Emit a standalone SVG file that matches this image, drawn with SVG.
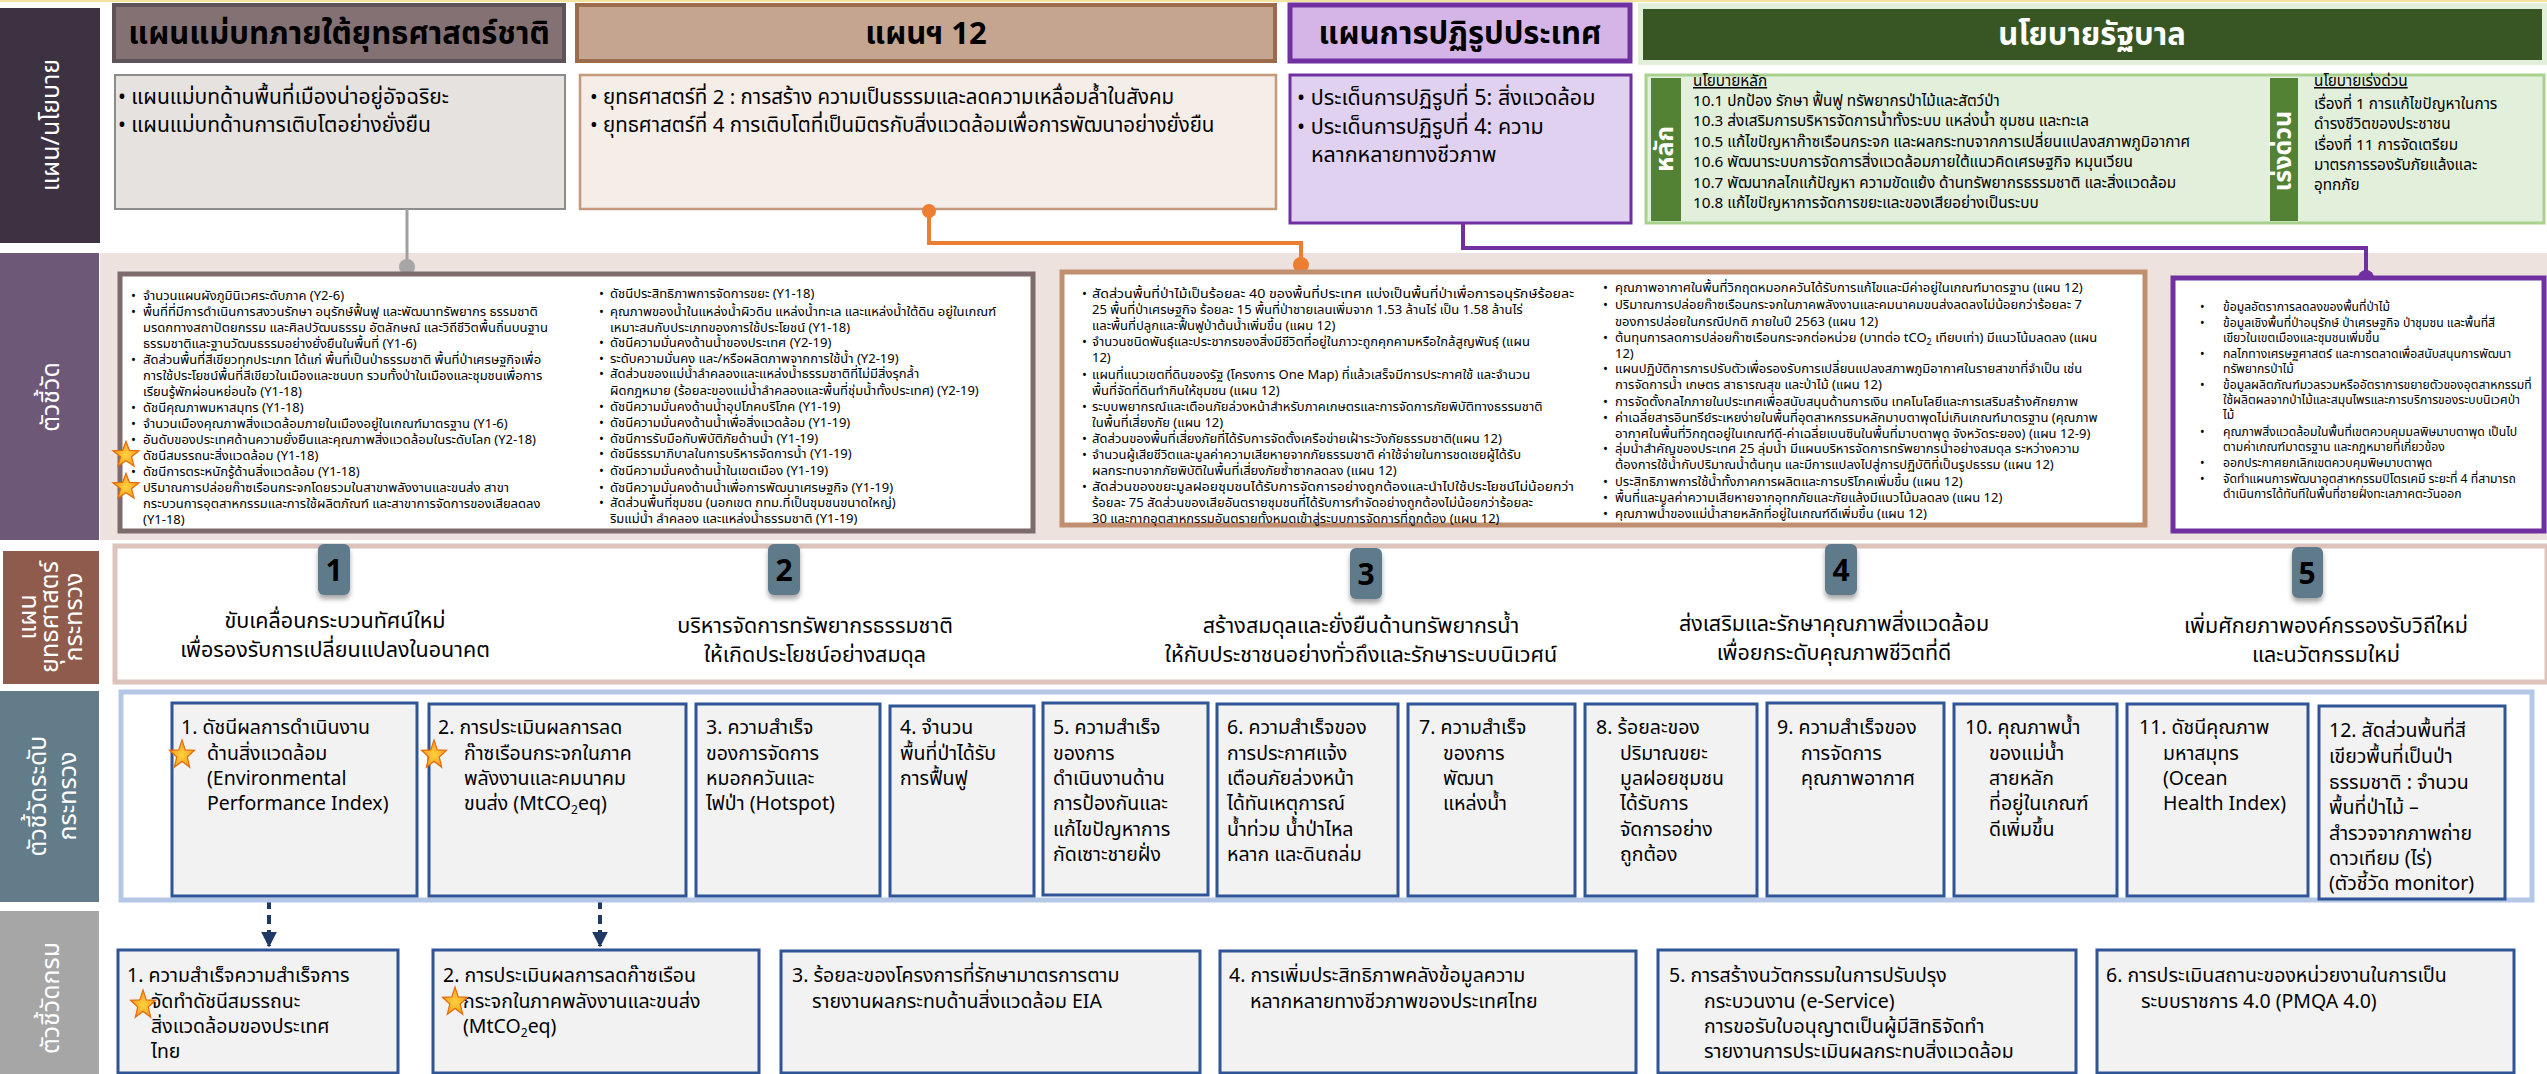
<svg xmlns="http://www.w3.org/2000/svg" width="2547" height="1074" viewBox="0 0 2547 1074">
<defs>
<style>
text{font-family:"Noto Sans Thai","Tahoma","Liberation Sans","DejaVu Sans",sans-serif;fill:#000}
.hdr{font-size:31px;font-weight:bold;text-anchor:middle}
.lbl{font-size:25px;fill:#fff;text-anchor:middle}
.ca{font-size:21px}
.cb{font-size:20.5px}
.c3{font-size:21.5px}
.pol{font-size:15.3px}
.ind{font-size:13px}
.ind3{font-size:12.2px}
.st{font-size:21.5px;text-anchor:middle}
.num{font-size:30px;font-weight:bold;text-anchor:middle}
.kpi{font-size:19.5px}
.bot{font-size:19.5px}
.kbox{fill:#f2f2f2;stroke:#2f5597;stroke-width:3}
.badge{fill:#5f7a8b;filter:url(#sh)}
</style>
<filter id="sh" x="-30%" y="-30%" width="160%" height="170%"><feDropShadow dx="0" dy="4" stdDeviation="2.5" flood-color="#000" flood-opacity="0.35"/></filter>
<radialGradient id="sg" cx="0.5" cy="0.55" r="0.6"><stop offset="0" stop-color="#ffd23c"/><stop offset="1" stop-color="#f7941d"/></radialGradient>
<path id="star" d="M0,-13 L3.23,-4.45 L12.36,-4.02 L5.23,1.7 L7.64,10.52 L0,5.5 L-7.64,10.52 L-5.23,1.7 L-12.36,-4.02 L-3.23,-4.45 Z" fill="url(#sg)" stroke="#e46c0a" stroke-width="1.2"/>
<marker id="ah" viewBox="0 0 10 10" refX="9" refY="5" markerWidth="4" markerHeight="4" orient="auto"><path d="M0,0 L10,5 L0,10 Z" fill="#1f3864"/></marker>
</defs>
<rect width="2547" height="1074" fill="#fff"/>
<rect x="0" y="0" width="2547" height="2" fill="#f3e3a0"/>

<!-- left labels -->
<g id="label-plan">
<rect x="0" y="8" width="100" height="235" fill="#3d3242"/>
<text class="lbl" transform="translate(50,125) rotate(-90)" dy="9">แผน/นโยบาย</text>
</g>
<g id="label-indicator">
<rect x="0" y="253" width="99" height="287" fill="#6d5877"/>
<text class="lbl" transform="translate(50,397) rotate(-90)" dy="9">ตัวชี้วัด</text>
</g>
<g id="label-strategy">
<rect x="3" y="551" width="96" height="133" fill="#8e5b4d"/>
<text class="lbl" font-size="20" transform="translate(52,617) rotate(-90)"><tspan x="0" dy="-16">แผน</tspan><tspan x="0" dy="22">ยุทธศาสตร์</tspan><tspan x="0" dy="24">กระทรวง</tspan></text>
</g>
<g id="label-kpi">
<rect x="0" y="691" width="99" height="211" fill="#637c8a"/>
<text class="lbl" transform="translate(50,796) rotate(-90)"><tspan x="0" dy="-4">ตัวชี้วัดระดับ</tspan><tspan x="0" dy="30">กระทรวง</tspan></text>
</g>
<g id="label-dept">
<rect x="0" y="911" width="99" height="163" fill="#a6a6a6"/>
<text class="lbl" font-size="24" transform="translate(50,998) rotate(-90)" dy="9">ตัวชี้วัดกรม</text>
</g>

<!-- band behind indicators -->
<rect x="100" y="253" width="2447" height="287" fill="#ede2de"/>

<!-- headers -->
<g id="hdr-masterplan">
<rect x="114" y="5" width="450" height="56" fill="#847174" stroke="#5e5358" stroke-width="4"/>
<text class="hdr" x="339" y="44">แผนแม่บทภายใต้ยุทธศาสตร์ชาติ</text>
</g>
<g id="hdr-plan12">
<rect x="577" y="5" width="698" height="56" fill="#c5a590" stroke="#9c6b4c" stroke-width="4"/>
<text class="hdr" x="926" y="44">แผนฯ 12</text>
</g>
<g id="hdr-reform">
<rect x="1290" y="5" width="340" height="56" fill="#d5b5e8" stroke="#7030a0" stroke-width="5"/>
<text class="hdr" x="1460" y="44">แผนการปฏิรูปประเทศ</text>
</g>
<g id="hdr-gov">
<rect x="1638" y="3" width="909" height="62" fill="#e2efda"/>
<rect x="1643" y="9" width="899" height="51" fill="#375623"/>
<text class="hdr" x="2092" y="45" style="fill:#fff">นโยบายรัฐบาล</text>
</g>

<!-- row 1 content -->
<g id="plan-masterplan">
<rect x="115" y="75" width="450" height="134" fill="#e6e2e0" stroke="#8c8c8c" stroke-width="2"/>
<text class="ca" x="118" y="104">• แผนแม่บทด้านพื้นที่เมืองน่าอยู่อัจฉริยะ</text>
<text class="ca" x="118" y="132">• แผนแม่บทด้านการเติบโตอย่างยั่งยืน</text>
</g>
<g id="plan-12">
<rect x="580" y="75" width="696" height="134" fill="#f5ede7" stroke="#c59a7c" stroke-width="2.5"/>
<text class="cb" x="590" y="104">•  ยุทธศาสตร์ที่ 2 : การสร้าง ความเป็นธรรมและลดความเหลื่อมล้ำในสังคม</text>
<text class="cb" x="590" y="132">•  ยุทธศาสตร์ที่ 4 การเติบโตที่เป็นมิตรกับสิ่งแวดล้อมเพื่อการพัฒนาอย่างยั่งยืน</text>
</g>
<g id="plan-reform">
<rect x="1290" y="75" width="341" height="148" fill="#e1d1f0" stroke="#7030a0" stroke-width="3"/>
<text class="c3" x="1297" y="105">• ประเด็นการปฏิรูปที่ 5: สิ่งแวดล้อม</text>
<text class="c3" x="1297" y="134">• ประเด็นการปฏิรูปที่ 4: ความ</text>
<text class="c3" x="1311" y="162">หลากหลายทางชีวภาพ</text>
</g>
<g id="plan-gov">
<rect x="1646" y="75" width="898" height="148" fill="#e2efda" stroke="#a9d18e" stroke-width="3"/>
<rect x="1651" y="78" width="30" height="143" fill="#548235"/>
<text class="lbl" font-size="19" font-weight="bold" transform="translate(1666,149) rotate(-90)" dy="7">หลัก</text>
<text class="pol" x="1693" y="86" text-decoration="underline">นโยบายหลัก</text>
<text class="pol" x="1693" y="106">10.1 ปกป้อง รักษา ฟื้นฟู ทรัพยากรป่าไม้และสัตว์ป่า</text>
<text class="pol" x="1693" y="126">10.3 ส่งเสริมการบริหารจัดการน้ำทั้งระบบ แหล่งน้ำ ชุมชน และทะเล</text>
<text class="pol" x="1693" y="147">10.5 แก้ไขปัญหาก๊าซเรือนกระจก และผลกระทบจากการเปลี่ยนแปลงสภาพภูมิอากาศ</text>
<text class="pol" x="1693" y="167">10.6 พัฒนาระบบการจัดการสิ่งแวดล้อมภายใต้แนวคิดเศรษฐกิจ หมุนเวียน</text>
<text class="pol" x="1693" y="188">10.7 พัฒนากลไกแก้ปัญหา ความขัดแย้ง ด้านทรัพยากรธรรมชาติ และสิ่งแวดล้อม</text>
<text class="pol" x="1693" y="208">10.8 แก้ไขปัญหาการจัดการขยะและของเสียอย่างเป็นระบบ</text>
<rect x="2270" y="78" width="28" height="143" fill="#548235"/>
<text class="lbl" font-size="19" font-weight="bold" transform="translate(2284,151) rotate(-90)" dy="7">เร่งด่วน</text>
<text class="pol" x="2314" y="86" text-decoration="underline">นโยบายเร่งด่วน</text>
<text class="pol" x="2314" y="109">เรื่องที่ 1 การแก้ไขปัญหาในการ</text>
<text class="pol" x="2314" y="129">ดำรงชีวิตของประชาชน</text>
<text class="pol" x="2314" y="150">เรื่องที่ 11 การจัดเตรียม</text>
<text class="pol" x="2314" y="170">มาตรการรองรับภัยแล้งและ</text>
<text class="pol" x="2314" y="190">อุทกภัย</text>
</g>

<!-- connectors -->
<g id="connectors" fill="none">
<line x1="407" y1="209" x2="407" y2="266" stroke="#a0a0a0" stroke-width="3"/>
<circle cx="407" cy="267" r="8" fill="#a6a6a6"/>
<polyline points="929,210 929,243 1301,243 1301,264" stroke="#ed7d31" stroke-width="4"/>
<circle cx="929" cy="211" r="7" fill="#ed7d31"/>
<circle cx="1301" cy="265" r="8" fill="#ed7d31"/>
<polyline points="1463,223 1463,248 2366,248 2366,276" stroke="#7030a0" stroke-width="4"/>
<circle cx="2366" cy="278" r="8" fill="#7030a0"/>
<line x1="269" y1="900" x2="269" y2="946" stroke="#1f3864" stroke-width="4" stroke-dasharray="9,6" marker-end="url(#ah)"/>
<line x1="600" y1="900" x2="600" y2="946" stroke="#1f3864" stroke-width="4" stroke-dasharray="9,6" marker-end="url(#ah)"/>
</g>

<!-- row 2 indicators -->
<g id="ind-masterplan">
<rect x="120" y="274" width="913" height="257" fill="#fff" stroke="#7d6b6e" stroke-width="5"/>
<text class="ind" x="131" y="300">•</text><text class="ind" x="143" y="300">จำนวนแผนผังภูมินิเวศระดับภาค (Y2-6)</text>
<text class="ind" x="131" y="316">•</text><text class="ind" x="143" y="316">พื้นที่ที่มีการดำเนินการสงวนรักษา อนุรักษ์ฟื้นฟู และพัฒนาทรัพยากร ธรรมชาติ</text>
<text class="ind" x="143" y="332">มรดกทางสถาปัตยกรรม และศิลปวัฒนธรรม อัตลักษณ์ และวิถีชีวิตพื้นถิ่นบนฐาน</text>
<text class="ind" x="143" y="348">ธรรมชาติและฐานวัฒนธรรมอย่างยั่งยืนในพื้นที่ (Y1-6)</text>
<text class="ind" x="131" y="364">•</text><text class="ind" x="143" y="364">สัดส่วนพื้นที่สีเขียวทุกประเภท ได้แก่ พื้นที่เป็นป่าธรรมชาติ พื้นที่ป่าเศรษฐกิจเพื่อ</text>
<text class="ind" x="143" y="380">การใช้ประโยชน์พื้นที่สีเขียวในเมืองและชนบท รวมทั้งป่าในเมืองและชุมชนเพื่อการ</text>
<text class="ind" x="143" y="396">เรียนรู้พักผ่อนหย่อนใจ (Y1-18)</text>
<text class="ind" x="131" y="412">•</text><text class="ind" x="143" y="412">ดัชนีคุณภาพมหาสมุทร (Y1-18)</text>
<text class="ind" x="131" y="428">•</text><text class="ind" x="143" y="428">จำนวนเมืองคุณภาพสิ่งแวดล้อมภายในเมืองอยู่ในเกณฑ์มาตรฐาน (Y1-6)</text>
<text class="ind" x="131" y="444">•</text><text class="ind" x="143" y="444">อันดับของประเทศด้านความยั่งยืนและคุณภาพสิ่งแวดล้อมในระดับโลก  (Y2-18)</text>
<text class="ind" x="143" y="460">ดัชนีสมรรถนะสิ่งแวดล้อม (Y1-18)</text>
<text class="ind" x="131" y="476">•</text><text class="ind" x="143" y="476">ดัชนีการตระหนักรู้ด้านสิ่งแวดล้อม (Y1-18)</text>
<text class="ind" x="143" y="492">ปริมาณการปล่อยก๊าซเรือนกระจกโดยรวมในสาขาพลังงานและขนส่ง  สาขา</text>
<text class="ind" x="143" y="508">กระบวนการอุตสาหกรรมและการใช้ผลิตภัณฑ์ และสาขาการจัดการของเสียลดลง</text>
<text class="ind" x="143" y="524">(Y1-18)</text>
<text class="ind" x="599" y="298">•</text><text class="ind" x="610" y="298">ดัชนีประสิทธิภาพการจัดการขยะ (Y1-18)</text>
<text class="ind" x="599" y="316">•</text><text class="ind" x="610" y="316">คุณภาพของน้ำในแหล่งน้ำผิวดิน แหล่งน้ำทะเล และแหล่งน้ำใต้ดิน อยู่ในเกณฑ์</text>
<text class="ind" x="610" y="332">เหมาะสมกับประเภทของการใช้ประโยชน์ (Y1-18)</text>
<text class="ind" x="599" y="347">•</text><text class="ind" x="610" y="347">ดัชนีความมั่นคงด้านน้ำของประเทศ  (Y2-19)</text>
<text class="ind" x="599" y="363">•</text><text class="ind" x="610" y="363">ระดับความมั่นคง และ/หรือผลิตภาพจากการใช้น้ำ (Y2-19)</text>
<text class="ind" x="599" y="378">•</text><text class="ind" x="610" y="378">สัดส่วนของแม่น้ำลำคลองและแหล่งน้ำธรรมชาติที่ไม่มีสิ่งรุกล้ำ</text>
<text class="ind" x="610" y="395">ผิดกฎหมาย (ร้อยละของแม่น้ำลำคลองและพื้นที่ชุ่มน้ำทั้งประเทศ) (Y2-19)</text>
<text class="ind" x="599" y="411">•</text><text class="ind" x="610" y="411">ดัชนีความมั่นคงด้านน้ำอุปโภคบริโภค  (Y1-19)</text>
<text class="ind" x="599" y="427">•</text><text class="ind" x="610" y="427">ดัชนีความมั่นคงด้านน้ำเพื่อสิ่งแวดล้อม  (Y1-19)</text>
<text class="ind" x="599" y="443">•</text><text class="ind" x="610" y="443">ดัชนีการรับมือกับพิบัติภัยด้านน้ำ (Y1-19)</text>
<text class="ind" x="599" y="458">•</text><text class="ind" x="610" y="458">ดัชนีธรรมาภิบาลในการบริหารจัดการน้ำ (Y1-19)</text>
<text class="ind" x="599" y="475">•</text><text class="ind" x="610" y="475">ดัชนีความมั่นคงด้านน้ำในเขตเมือง  (Y1-19)</text>
<text class="ind" x="599" y="492">•</text><text class="ind" x="610" y="492">ดัชนีความมั่นคงด้านน้ำเพื่อการพัฒนาเศรษฐกิจ (Y1-19)</text>
<text class="ind" x="599" y="507">•</text><text class="ind" x="610" y="507">สัดส่วนพื้นที่ชุมชน (นอกเขต กทม.ที่เป็นชุมชนขนาดใหญ่)</text>
<text class="ind" x="610" y="523">ริมแม่น้ำ ลำคลอง และแหล่งน้ำธรรมชาติ (Y1-19)</text>
<use href="#star" transform="translate(126,455) scale(1.05)"/>
<use href="#star" transform="translate(126,487) scale(1.05)"/>
</g>

<g id="ind-plan12">
<rect x="1062" y="272" width="1083" height="253" fill="#fff" stroke="#bf8f6f" stroke-width="5"/>
<text class="ind" x="1082" y="298">•</text><text class="ind" x="1092" y="298" textLength="482" lengthAdjust="spacingAndGlyphs">สัดส่วนพื้นที่ป่าไม้เป็นร้อยละ 40 ของพื้นที่ประเทศ แบ่งเป็นพื้นที่ป่าเพื่อการอนุรักษ์ร้อยละ</text>
<text class="ind" x="1092" y="314">25 พื้นที่ป่าเศรษฐกิจ ร้อยละ 15 พื้นที่ป่าชายเลนเพิ่มจาก 1.53 ล้านไร่ เป็น 1.58 ล้านไร่</text>
<text class="ind" x="1092" y="330">และพื้นที่ปลูกและฟื้นฟูป่าต้นน้ำเพิ่มขึ้น (แผน 12)</text>
<text class="ind" x="1082" y="346">•</text><text class="ind" x="1092" y="346">จำนวนชนิดพันธุ์และประชากรของสิ่งมีชีวิตที่อยู่ในภาวะถูกคุกคามหรือใกล้สูญพันธุ์ (แผน</text>
<text class="ind" x="1092" y="362">12)</text>
<text class="ind" x="1082" y="379">•</text><text class="ind" x="1092" y="379">แผนที่แนวเขตที่ดินของรัฐ (โครงการ One Map) ที่แล้วเสร็จมีการประกาศใช้ และจำนวน</text>
<text class="ind" x="1092" y="395">พื้นที่จัดที่ดินทำกินให้ชุมชน (แผน 12)</text>
<text class="ind" x="1082" y="411">•</text><text class="ind" x="1092" y="411">ระบบพยากรณ์และเตือนภัยล่วงหน้าสำหรับภาคเกษตรและการจัดการภัยพิบัติทางธรรมชาติ</text>
<text class="ind" x="1092" y="427">ในพื้นที่เสี่ยงภัย (แผน 12)</text>
<text class="ind" x="1082" y="443">•</text><text class="ind" x="1092" y="443">สัดส่วนของพื้นที่เสี่ยงภัยที่ได้รับการจัดตั้งเครือข่ายเฝ้าระวังภัยธรรมชาติ(แผน 12)</text>
<text class="ind" x="1082" y="459">•</text><text class="ind" x="1092" y="459">จำนวนผู้เสียชีวิตและมูลค่าความเสียหายจากภัยธรรมชาติ ค่าใช้จ่ายในการชดเชยผู้ได้รับ</text>
<text class="ind" x="1092" y="475">ผลกระทบจากภัยพิบัติในพื้นที่เสี่ยงภัยซ้ำซากลดลง (แผน 12)</text>
<text class="ind" x="1082" y="491">•</text><text class="ind" x="1092" y="491" textLength="482" lengthAdjust="spacingAndGlyphs">สัดส่วนของขยะมูลฝอยชุมชนได้รับการจัดการอย่างถูกต้องและนำไปใช้ประโยชน์ไม่น้อยกว่า</text>
<text class="ind" x="1092" y="507">ร้อยละ 75 สัดส่วนของเสียอันตรายชุมชนที่ได้รับการกำจัดอย่างถูกต้องไม่น้อยกว่าร้อยละ</text>
<text class="ind" x="1092" y="523">30 และกากอุตสาหกรรมอันตรายทั้งหมดเข้าสู่ระบบการจัดการที่ถูกต้อง (แผน 12)</text>
<text class="ind" x="1603" y="292">•</text><text class="ind" x="1615" y="292">คุณภาพอากาศในพื้นที่วิกฤตหมอกควันได้รับการแก้ไขและมีค่าอยู่ในเกณฑ์มาตรฐาน  (แผน 12)</text>
<text class="ind" x="1603" y="309">•</text><text class="ind" x="1615" y="309">ปริมาณการปล่อยก๊าซเรือนกระจกในภาคพลังงานและคมนาคมขนส่งลดลงไม่น้อยกว่าร้อยละ  7</text>
<text class="ind" x="1615" y="326">ของการปล่อยในกรณีปกติ ภายในปี 2563 (แผน 12)</text>
<text class="ind" x="1603" y="342">•</text><text class="ind" x="1615" y="342">ต้นทุนการลดการปล่อยก๊าซเรือนกระจกต่อหน่วย  (บาทต่อ tCO<tspan font-size="9" dy="3">2</tspan><tspan dy="-3"> เทียบเท่า) มีแนวโน้มลดลง  (แผน</tspan></text>
<text class="ind" x="1615" y="358">12)</text>
<text class="ind" x="1603" y="373">•</text><text class="ind" x="1615" y="373">แผนปฏิบัติการการปรับตัวเพื่อรองรับการเปลี่ยนแปลงสภาพภูมิอากาศในรายสาขาที่จำเป็น เช่น</text>
<text class="ind" x="1615" y="389">การจัดการน้ำ เกษตร สาธารณสุข และป่าไม้ (แผน 12)</text>
<text class="ind" x="1603" y="406">•</text><text class="ind" x="1615" y="406">การจัดตั้งกลไกภายในประเทศเพื่อสนับสนุนด้านการเงิน เทคโนโลยีและการเสริมสร้างศักยภาพ</text>
<text class="ind" x="1603" y="422">•</text><text class="ind" x="1615" y="422">ค่าเฉลี่ยสารอินทรีย์ระเหยง่ายในพื้นที่อุตสาหกรรมหลักมาบตาพุดไม่เกินเกณฑ์มาตรฐาน (คุณภาพ</text>
<text class="ind" x="1615" y="438">อากาศในพื้นที่วิกฤตอยู่ในเกณฑ์ดี-ค่าเฉลี่ยเบนซินในพื้นที่มาบตาพุด  จังหวัดระยอง) (แผน 12-9)</text>
<text class="ind" x="1603" y="453">•</text><text class="ind" x="1615" y="453">ลุ่มน้ำสำคัญของประเทศ 25 ลุ่มน้ำ มีแผนบริหารจัดการทรัพยากรน้ำอย่างสมดุล ระหว่างความ</text>
<text class="ind" x="1615" y="469">ต้องการใช้น้ำกับปริมาณน้ำต้นทุน และมีการแปลงไปสู่การปฏิบัติที่เป็นรูปธรรม (แผน 12)</text>
<text class="ind" x="1603" y="486">•</text><text class="ind" x="1615" y="486">ประสิทธิภาพการใช้น้ำทั้งภาคการผลิตและการบริโภคเพิ่มขึ้น (แผน 12)</text>
<text class="ind" x="1603" y="502">•</text><text class="ind" x="1615" y="502">พื้นที่และมูลค่าความเสียหายจากอุทกภัยและภัยแล้งมีแนวโน้มลดลง  (แผน 12)</text>
<text class="ind" x="1603" y="518">•</text><text class="ind" x="1615" y="518">คุณภาพน้ำของแม่น้ำสายหลักที่อยู่ในเกณฑ์ดีเพิ่มขึ้น  (แผน 12)</text>
</g>

<g id="ind-reform">
<rect x="2173" y="278" width="371" height="253" fill="#fff" stroke="#7030a0" stroke-width="5"/>
<text class="ind3" x="2200" y="311">•</text><text class="ind3" x="2223" y="311">ข้อมูลอัตราการลดลงของพื้นที่ป่าไม้</text>
<text class="ind3" x="2200" y="327">•</text><text class="ind3" x="2223" y="327">ข้อมูลเชิงพื้นที่ป่าอนุรักษ์ ป่าเศรษฐกิจ ป่าชุมชน และพื้นที่สี</text>
<text class="ind3" x="2223" y="342">เขียวในเขตเมืองและชุมชนเพิ่มขึ้น</text>
<text class="ind3" x="2200" y="358">•</text><text class="ind3" x="2223" y="358">กลไกทางเศรษฐศาสตร์ และการตลาดเพื่อสนับสนุนการพัฒนา</text>
<text class="ind3" x="2223" y="373">ทรัพยากรป่าไม้</text>
<text class="ind3" x="2200" y="389">•</text><text class="ind3" x="2223" y="389">ข้อมูลผลิตภัณฑ์มวลรวมหรืออัตราการขยายตัวของอุตสาหกรรมที่</text>
<text class="ind3" x="2223" y="404">ใช้ผลิตผลจากป่าไม้และสมุนไพรและการบริการของระบบนิเวศป่า</text>
<text class="ind3" x="2223" y="419">ไม้</text>
<text class="ind3" x="2200" y="436">•</text><text class="ind3" x="2223" y="436">คุณภาพสิ่งแวดล้อมในพื้นที่เขตควบคุมมลพิษมาบตาพุด เป็นไป</text>
<text class="ind3" x="2223" y="451">ตามค่าเกณฑ์มาตรฐาน และกฎหมายที่เกี่ยวข้อง</text>
<text class="ind3" x="2200" y="467">•</text><text class="ind3" x="2223" y="467">ออกประกาศยกเลิกเขตควบคุมพิษมาบตาพุด</text>
<text class="ind3" x="2200" y="483">•</text><text class="ind3" x="2223" y="483">จัดทำแผนการพัฒนาอุตสาหกรรมปิโตรเคมี ระยะที่ 4 ที่สามารถ</text>
<text class="ind3" x="2223" y="498">ดำเนินการได้ทันทีในพื้นที่ชายฝั่งทะเลภาคตะวันออก</text>
</g>

<!-- row 3 strategies -->
<rect x="115" y="546" width="2432" height="136" fill="#fff" stroke="#dcc3bc" stroke-width="5"/>
<g id="strategy-1">
<rect class="badge" x="318" y="544" width="32" height="51" rx="6"/>
<text class="num" x="334" y="581">1</text>
<text class="st" x="335" y="628">ขับเคลื่อนกระบวนทัศน์ใหม่</text>
<text class="st" x="335" y="657">เพื่อรองรับการเปลี่ยนแปลงในอนาคต</text>
</g>
<g id="strategy-2">
<rect class="badge" x="768" y="544" width="32" height="51" rx="6"/>
<text class="num" x="784" y="581">2</text>
<text class="st" x="815" y="633">บริหารจัดการทรัพยากรธรรมชาติ</text>
<text class="st" x="815" y="662">ให้เกิดประโยชน์อย่างสมดุล</text>
</g>
<g id="strategy-3">
<rect class="badge" x="1350" y="548" width="32" height="51" rx="6"/>
<text class="num" x="1366" y="585">3</text>
<text class="st" x="1361" y="633">สร้างสมดุลและยั่งยืนด้านทรัพยากรน้ำ</text>
<text class="st" x="1361" y="662">ให้กับประชาชนอย่างทั่วถึงและรักษาระบบนิเวศน์</text>
</g>
<g id="strategy-4">
<rect class="badge" x="1825" y="544" width="32" height="51" rx="6"/>
<text class="num" x="1841" y="581">4</text>
<text class="st" x="1834" y="631">ส่งเสริมและรักษาคุณภาพสิ่งแวดล้อม</text>
<text class="st" x="1834" y="660">เพื่อยกระดับคุณภาพชีวิตที่ดี</text>
</g>
<g id="strategy-5">
<rect class="badge" x="2292" y="547" width="31" height="51" rx="6"/>
<text class="num" x="2307" y="584">5</text>
<text class="st" x="2326" y="633">เพิ่มศักยภาพองค์กรรองรับวิถีใหม่</text>
<text class="st" x="2326" y="662">และนวัตกรรมใหม่</text>
</g>

<!-- row 4 ministry KPIs -->
<rect x="121" y="692" width="2411" height="208" fill="#fff" stroke="#b4c7e7" stroke-width="5"/>
<g id="kpi-1">
<rect class="kbox" x="172" y="703" width="245" height="193"/>
<text class="kpi" x="181" y="734">1. ดัชนีผลการดำเนินงาน</text>
<text class="kpi" x="207" y="760">ด้านสิ่งแวดล้อม</text>
<text class="kpi" x="207" y="785">(Environmental</text>
<text class="kpi" x="207" y="810">Performance Index)</text>
<use href="#star" transform="translate(182,755) scale(1,1.15)"/>
</g>
<g id="kpi-2">
<rect class="kbox" x="429" y="704" width="257" height="192"/>
<text class="kpi" x="438" y="734">2. การประเมินผลการลด</text>
<text class="kpi" x="464" y="760">ก๊าซเรือนกระจกในภาค</text>
<text class="kpi" x="464" y="785">พลังงานและคมนาคม</text>
<text class="kpi" x="464" y="810">ขนส่ง (MtCO<tspan font-size="12" dy="4">2</tspan><tspan dy="-4">eq)</tspan></text>
<use href="#star" transform="translate(434,755) scale(1,1.15)"/>
</g>
<g id="kpi-3">
<rect class="kbox" x="696" y="704" width="184" height="192"/>
<text class="kpi" x="706" y="734">3. ความสำเร็จ</text>
<text class="kpi" x="706" y="760">ของการจัดการ</text>
<text class="kpi" x="706" y="785">หมอกควันและ</text>
<text class="kpi" x="706" y="810">ไฟป่า (Hotspot)</text>
</g>
<g id="kpi-4">
<rect class="kbox" x="890" y="706" width="144" height="190"/>
<text class="kpi" x="900" y="734">4. จำนวน</text>
<text class="kpi" x="900" y="760">พื้นที่ป่าได้รับ</text>
<text class="kpi" x="900" y="785">การฟื้นฟู</text>
</g>
<g id="kpi-5">
<rect class="kbox" x="1043" y="703" width="165" height="192"/>
<text class="kpi" x="1053" y="734">5. ความสำเร็จ</text>
<text class="kpi" x="1053" y="760">ของการ</text>
<text class="kpi" x="1053" y="785">ดำเนินงานด้าน</text>
<text class="kpi" x="1053" y="810">การป้องกันและ</text>
<text class="kpi" x="1053" y="836">แก้ไขปัญหาการ</text>
<text class="kpi" x="1053" y="861">กัดเซาะชายฝั่ง</text>
</g>
<g id="kpi-6">
<rect class="kbox" x="1217" y="704" width="181" height="192"/>
<text class="kpi" x="1227" y="734">6. ความสำเร็จของ</text>
<text class="kpi" x="1227" y="760">การประกาศแจ้ง</text>
<text class="kpi" x="1227" y="785">เตือนภัยล่วงหน้า</text>
<text class="kpi" x="1227" y="810">ได้ทันเหตุการณ์</text>
<text class="kpi" x="1227" y="836">น้ำท่วม น้ำป่าไหล</text>
<text class="kpi" x="1227" y="861">หลาก และดินถล่ม</text>
</g>
<g id="kpi-7">
<rect class="kbox" x="1408" y="704" width="167" height="192"/>
<text class="kpi" x="1419" y="734">7. ความสำเร็จ</text>
<text class="kpi" x="1443" y="760">ของการ</text>
<text class="kpi" x="1443" y="785">พัฒนา</text>
<text class="kpi" x="1443" y="810">แหล่งน้ำ</text>
</g>
<g id="kpi-8">
<rect class="kbox" x="1585" y="704" width="172" height="192"/>
<text class="kpi" x="1596" y="734">8. ร้อยละของ</text>
<text class="kpi" x="1620" y="760">ปริมาณขยะ</text>
<text class="kpi" x="1620" y="785">มูลฝอยชุมชน</text>
<text class="kpi" x="1620" y="810">ได้รับการ</text>
<text class="kpi" x="1620" y="836">จัดการอย่าง</text>
<text class="kpi" x="1620" y="861">ถูกต้อง</text>
</g>
<g id="kpi-9">
<rect class="kbox" x="1767" y="703" width="177" height="193"/>
<text class="kpi" x="1777" y="734">9. ความสำเร็จของ</text>
<text class="kpi" x="1801" y="760">การจัดการ</text>
<text class="kpi" x="1801" y="785">คุณภาพอากาศ</text>
</g>
<g id="kpi-10">
<rect class="kbox" x="1954" y="704" width="163" height="192"/>
<text class="kpi" x="1965" y="734">10. คุณภาพน้ำ</text>
<text class="kpi" x="1989" y="760">ของแม่น้ำ</text>
<text class="kpi" x="1989" y="785">สายหลัก</text>
<text class="kpi" x="1989" y="810">ที่อยู่ในเกณฑ์</text>
<text class="kpi" x="1989" y="836">ดีเพิ่มขึ้น</text>
</g>
<g id="kpi-11">
<rect class="kbox" x="2127" y="704" width="181" height="192"/>
<text class="kpi" x="2139" y="734">11. ดัชนีคุณภาพ</text>
<text class="kpi" x="2163" y="760">มหาสมุทร</text>
<text class="kpi" x="2163" y="785">(Ocean</text>
<text class="kpi" x="2163" y="810">Health Index)</text>
</g>
<g id="kpi-12">
<rect class="kbox" x="2319" y="706" width="186" height="193"/>
<text class="kpi" x="2329" y="737">12. สัดส่วนพื้นที่สี</text>
<text class="kpi" x="2329" y="763">เขียวพื้นที่เป็นป่า</text>
<text class="kpi" x="2329" y="789">ธรรมชาติ : จำนวน</text>
<text class="kpi" x="2329" y="814">พื้นที่ป่าไม้ –</text>
<text class="kpi" x="2329" y="840">สำรวจจากภาพถ่าย</text>
<text class="kpi" x="2329" y="865">ดาวเทียม (ไร่)</text>
<text class="kpi" x="2329" y="890">(ตัวชี้วัด monitor)</text>
</g>

<!-- row 5 department KPIs -->
<g id="dept-1">
<rect class="kbox" x="118" y="950" width="280" height="123"/>
<text class="bot" x="127" y="982">1. ความสำเร็จความสำเร็จการ</text>
<text class="bot" x="151" y="1008">จัดทำดัชนีสมรรถนะ</text>
<text class="bot" x="151" y="1033">สิ่งแวดล้อมของประเทศ</text>
<text class="bot" x="151" y="1058">ไทย</text>
<use href="#star" transform="translate(143,1005) scale(1,1.15)"/>
</g>
<g id="dept-2">
<rect class="kbox" x="433" y="950" width="326" height="123"/>
<text class="bot" x="443" y="982">2. การประเมินผลการลดก๊าซเรือน</text>
<text class="bot" x="463" y="1008">กระจกในภาคพลังงานและขนส่ง</text>
<text class="bot" x="463" y="1033">(MtCO<tspan font-size="12" dy="4">2</tspan><tspan dy="-4">eq)</tspan></text>
<use href="#star" transform="translate(455,1002) scale(1,1.15)"/>
</g>
<g id="dept-3">
<rect class="kbox" x="781" y="951" width="419" height="122"/>
<text class="bot" x="792" y="982">3. ร้อยละของโครงการที่รักษามาตรการตาม</text>
<text class="bot" x="812" y="1008">รายงานผลกระทบด้านสิ่งแวดล้อม EIA</text>
</g>
<g id="dept-4">
<rect class="kbox" x="1220" y="951" width="416" height="122"/>
<text class="bot" x="1229" y="982">4. การเพิ่มประสิทธิภาพคลังข้อมูลความ</text>
<text class="bot" x="1250" y="1008">หลากหลายทางชีวภาพของประเทศไทย</text>
</g>
<g id="dept-5">
<rect class="kbox" x="1658" y="950" width="418" height="123"/>
<text class="bot" x="1669" y="982">5. การสร้างนวัตกรรมในการปรับปรุง</text>
<text class="bot" x="1704" y="1008">กระบวนงาน (e-Service)</text>
<text class="bot" x="1704" y="1033">การขอรับใบอนุญาตเป็นผู้มีสิทธิจัดทำ</text>
<text class="bot" x="1704" y="1058">รายงานการประเมินผลกระทบสิ่งแวดล้อม</text>
</g>
<g id="dept-6">
<rect class="kbox" x="2097" y="950" width="417" height="123"/>
<text class="bot" x="2106" y="982">6. การประเมินสถานะของหน่วยงานในการเป็น</text>
<text class="bot" x="2141" y="1008">ระบบราชการ 4.0 (PMQA 4.0)</text>
</g>
</svg>
